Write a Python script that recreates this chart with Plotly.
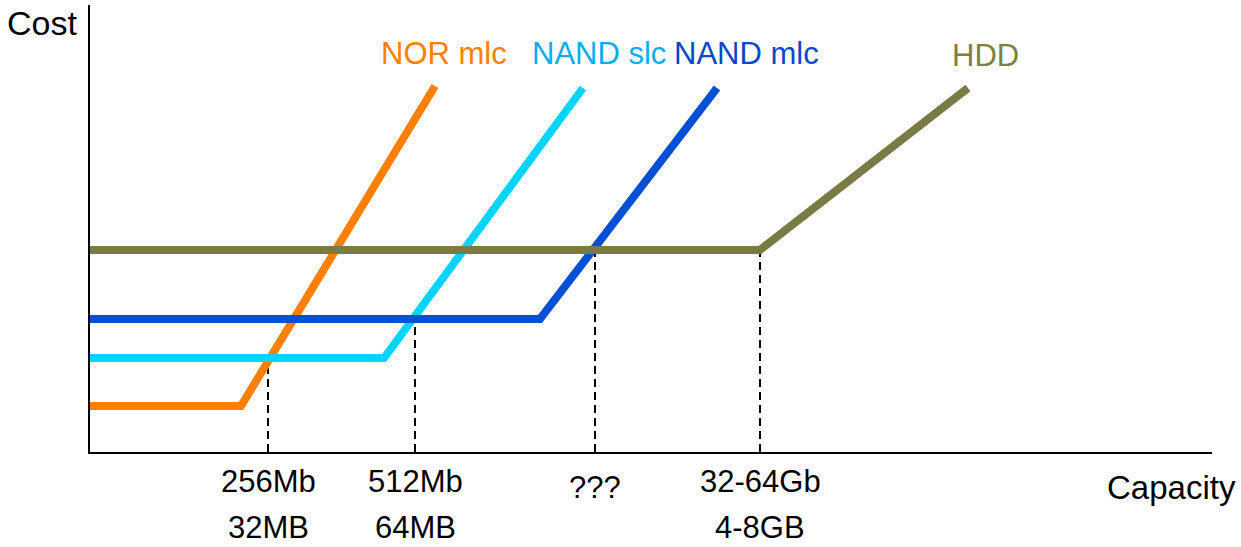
import plotly.graph_objects as go

# Capacity / cost curves in arbitrary units (capacity grows to the right, cost upward)
series_names = ["NOR mlc", "NAND slc", "NAND mlc", "HDD"]
series_x = [
    [0, 151, 345],
    [0, 294, 493],
    [0, 450, 627],
    [0, 670, 878],
]
series_y = [
    [46, 46, 366],
    [94, 94, 364],
    [133, 133, 364],
    [202, 202, 364],
]
line_colors = ["#FF8000", "#00D4FF", "#0050D6", "#7A7A45"]
label_colors = ["#FF8000", "#0AAEF0", "#0848CC", "#80803F"]

# Break-even capacities marked with dashed guides
mark_x = [178, 325, 505, 670]
mark_y = [94, 133, 202, 202]
mark_labels = ["256Mb<br>32MB", "512Mb<br>64MB", "???", "32-64Gb<br>4-8GB"]

FONT = "Liberation Sans, Arial, Helvetica, sans-serif"
W, H = 1241, 547
L, R, T, B = 90, 29, 5, 95


def px(xp):
    return (xp - L) / (W - L - R)


def py(yp):
    return (H - B - yp) / (H - T - B)


fig = go.Figure()

for xv, yv in zip(mark_x, mark_y):
    fig.add_trace(go.Scatter(
        x=[xv, xv], y=[0, yv], mode="lines",
        line=dict(color="black", width=2, dash="8px,5px"),
        hoverinfo="skip", showlegend=False,
    ))

for name, xs, ys, col in zip(series_names, series_x, series_y, line_colors):
    fig.add_trace(go.Scatter(
        x=xs, y=ys, mode="lines", name=name,
        line=dict(color=col, width=8),
        showlegend=False,
    ))

annotations = []
label_pos = [(444, 54), (599, 54), (746, 54), (985, 56)]
for name, col, (lx, ly) in zip(series_names, label_colors, label_pos):
    annotations.append(dict(
        x=px(lx), y=py(ly), xref="paper", yref="paper", text=name,
        showarrow=False, font=dict(family=FONT, size=31, color=col),
        xanchor="center", yanchor="middle",
    ))

# Capacity labels under the axis, one text per line
for xv, txt in zip(mark_x, mark_labels):
    lines = txt.split("<br>")
    ys = [488] if len(lines) == 1 else [482, 527]
    for line_txt, yl in zip(lines, ys):
        annotations.append(dict(
            x=xv, y=py(yl), xref="x", yref="paper", text=line_txt,
            showarrow=False, font=dict(family=FONT, size=31, color="black"),
            xanchor="center", yanchor="middle",
        ))

annotations.append(dict(
    x=px(42), y=py(23), xref="paper", yref="paper", text="Cost",
    showarrow=False, font=dict(family=FONT, size=34, color="black"),
    xanchor="center", yanchor="middle",
))
annotations.append(dict(
    x=px(1171), y=py(487), xref="paper", yref="paper", text="Capacity",
    showarrow=False, font=dict(family=FONT, size=33, color="black"),
    xanchor="center", yanchor="middle",
))

fig.update_layout(
    width=W, height=H,
    margin=dict(l=L, r=R, t=T, b=B, pad=0),
    paper_bgcolor="white", plot_bgcolor="white",
    xaxis=dict(range=[0, W - L - R], showline=True, linecolor="black", linewidth=2,
               showgrid=False, zeroline=False, showticklabels=False, ticks="",
               fixedrange=True),
    yaxis=dict(range=[0, H - T - B], showline=True, linecolor="black", linewidth=2,
               showgrid=False, zeroline=False, showticklabels=False, ticks="",
               fixedrange=True),
    annotations=annotations,
)

fig.write_html("out.html")
